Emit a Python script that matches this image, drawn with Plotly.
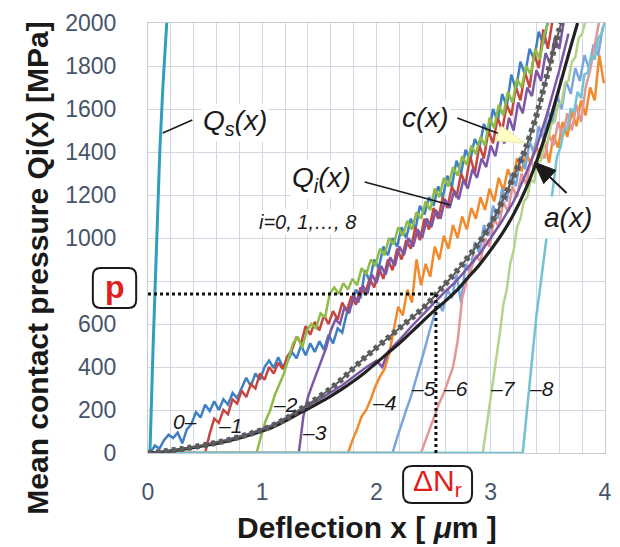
import plotly.graph_objects as go

# ---------------- data ----------------
x_tickvals = [0, 1, 2, 3, 4]
y_tickvals = [0, 200, 400, 600, 800, 1000, 1200, 1400, 1600, 1800, 2000]
y_ticktext = ["0", "200", "400", "600", "", "1000", "1200", "1400", "1600", "1800", "2000"]

qs_x = [0.0, 0.017, 0.045, 0.075, 0.103, 0.13, 0.164]
qs_y = [0, 0, 500, 1000, 1400, 1700, 2000]

q0_start, q0_step = 0.02, 0.04
q0 = [0, 35, 20, 60, 85, 70, 95, 45, 110, 135, 190, 165, 225, 195, 240, 200, 250, 225, 280, 255,
      300, 350, 310, 370, 340, 400, 430, 395, 445, 400, 425, 470, 440, 500, 455, 510, 470, 520, 480, 550,
      510, 580, 560, 650, 690, 760, 720, 850, 800, 900, 860, 960, 920, 1000, 960, 1050, 1000, 1090, 1040, 1150,
      1110, 1190, 1150, 1240, 1190, 1290, 1240, 1360, 1300, 1410, 1360, 1460, 1420, 1530, 1480, 1600, 1540, 1670,
      1610, 1760, 1690, 1820, 1760, 1880, 1830, 1960, 1900, 2010]

q1_start, q1_step = 0.50, 0.04
q1 = [0, 90, 160, 140, 200, 180, 250, 230, 290, 260, 320, 300, 370, 340, 400, 370, 420, 390, 450, 480,
      540, 510, 590, 550, 610, 570, 640, 600, 660, 620, 700, 660, 730, 690, 770, 740, 810, 770, 860, 810,
      900, 850, 950, 900, 990, 950, 1050, 990, 1090, 1040, 1140, 1090, 1190, 1140, 1240, 1190, 1300, 1250,
      1380, 1300, 1430, 1370, 1500, 1440, 1560, 1500, 1620, 1570, 1700, 1640, 1770, 1700, 1860, 1790, 1970,
      1880, 2010]

q2_start, q2_step = 0.95, 0.04
q2 = [0, 80, 150, 200, 270, 320, 370, 440, 510, 540, 490, 570, 600, 580, 650, 630, 740, 770, 740, 790,
      760, 810, 780, 860, 830, 900, 870, 950, 920, 1000, 970, 1050, 1010, 1080, 1040, 1120, 1090, 1170, 1130,
      1230, 1190, 1280, 1240, 1330, 1290, 1380, 1340, 1430, 1390, 1470, 1430, 1560, 1510, 1620, 1570, 1680,
      1630, 1740, 1700, 1800, 1760, 1880, 1830, 1950, 2010]

q3_start, q3_step = 1.32, 0.04
q3 = [0, 170, 260, 320, 380, 430, 490, 570, 620, 600, 680, 650, 730, 700, 780, 740, 830, 790, 870, 830,
      910, 870, 960, 920, 1000, 960, 1040, 1000, 1090, 1050, 1130, 1090, 1180, 1140, 1220, 1180, 1270, 1230,
      1320, 1280, 1370, 1330, 1430, 1380, 1490, 1440, 1560, 1500, 1630, 1580, 1700, 1660, 1780, 1730, 1860,
      1810, 1930, 1880, 2010]

q4_start, q4_step = 1.75, 0.04
q4 = [0, 60, 110, 170, 200, 250, 310, 355, 390, 460, 580, 680, 640, 760, 700, 900, 780, 880, 820, 960,
      900, 1010, 950, 1060, 1000, 1100, 1040, 1140, 1090, 1190, 1130, 1230, 1170, 1280, 1220, 1320, 1260,
      1370, 1310, 1400, 1340, 1440, 1370, 1460, 1350, 1480, 1420, 1540, 1470, 1590, 1520, 1640, 1570, 1700,
      1640, 1850, 1720]

q5_start, q5_step = 2.14, 0.04
q5 = [0, 70, 140, 200, 260, 330, 400, 480, 560, 630, 700, 660, 760, 720, 830, 700, 880, 840, 980, 930,
      1060, 1010, 1150, 1090, 1230, 1170, 1300, 1240, 1380, 1320, 1450, 1390, 1520, 1460, 1590, 1530, 1660,
      1600, 1730, 1670, 1790, 1730, 1850, 1790, 1900, 1850, 1980]

q6_start, q6_step = 2.39, 0.04
q6 = [0, 60, 120, 180, 233, 280, 340, 400, 520, 720, 800, 860, 920, 890, 1000, 960, 1090, 1050, 1170,
      1120, 1240, 1190, 1300, 1250, 1360, 1310, 1420, 1370, 1480, 1430, 1540, 1470, 1580, 1500, 1620, 1540,
      1700, 1780, 1900, 2010]

q7_start, q7_step = 2.93, 0.03
q7 = [0, 110, 220, 330, 450, 560, 690, 760, 880, 940, 1050, 1090, 1170, 1190, 1270, 1260, 1350, 1360,
      1440, 1450, 1530, 1540, 1620, 1630, 1720, 1730, 1820, 1840, 1930, 1950, 2010]

q8_start, q8_step = 3.28, 0.03
q8 = [0, 160, 330, 480, 640, 760, 880, 1000, 1140, 1250, 1380, 1420, 1500, 1510, 1600, 1590, 1680, 1650,
      1760, 1770, 1850, 1830, 1930, 1950, 2010]

b_x = [0.5, 0.7, 0.9, 1.1, 1.3, 1.5, 1.7, 1.9, 2.0, 2.05, 2.1, 2.2, 2.3, 2.4, 2.5, 2.6, 2.7, 2.8, 2.9,
       3.0, 3.1, 3.2, 3.3, 3.4, 3.5, 3.6, 3.68]
b_y = [38, 62, 92, 132, 190, 250, 315, 395, 430, 400, 470, 525, 585, 640, 700, 750, 800, 865, 925,
       1000, 1080, 1170, 1290, 1420, 1590, 1780, 1950]

a_x = [0.0, 0.1, 0.2, 0.3, 0.4, 0.5, 0.6, 0.7, 0.8, 0.9, 1.0, 1.1, 1.2, 1.3, 1.4, 1.5, 1.6, 1.7, 1.8,
       1.9, 2.0, 2.1, 2.2, 2.3, 2.4, 2.5, 2.6, 2.7, 2.8, 2.9, 3.0, 3.1, 3.2, 3.3, 3.4, 3.5, 3.6, 3.7, 3.76]
a_y = [0, 4, 10, 17, 26, 35, 45, 56, 70, 85, 102, 122, 148, 178, 205, 234, 265, 298, 335,
       375, 420, 465, 510, 560, 610, 660, 705, 755, 815, 875, 945, 1020, 1110, 1220, 1355, 1515, 1700, 1890, 2000]

c_x = [0.0, 0.1, 0.2, 0.3, 0.4, 0.5, 0.6, 0.7, 0.8, 0.9, 1.0, 1.1, 1.2, 1.3, 1.4, 1.5, 1.6, 1.7, 1.8,
       1.9, 2.0, 2.1, 2.2, 2.3, 2.4, 2.5, 2.6, 2.7, 2.8, 2.9, 3.0, 3.1, 3.2, 3.3, 3.4, 3.45, 3.5, 3.55, 3.6, 3.62]
c_y = [0, 5, 12, 19, 28, 37, 48, 60, 75, 90, 108, 130, 158, 192, 225, 262, 300, 345, 395,
       445, 490, 535, 580, 625, 670, 725, 785, 845, 910, 980, 1065, 1170, 1285, 1410, 1570, 1670, 1770, 1870, 1970, 2000]

p_value = 740
dNr_value = 2.52

q_series = [
    (q0_start, q0_step, q0, "#3f7fc4"),
    (q1_start, q1_step, q1, "#c4463f"),
    (q2_start, q2_step, q2, "#8fbc45"),
    (q3_start, q3_step, q3, "#7b57a6"),
    (q4_start, q4_step, q4, "#f08a2c"),
    (q5_start, q5_step, q5, "#7aa6dc"),
    (q6_start, q6_step, q6, "#e39696"),
    (q7_start, q7_step, q7, "#b5d38a"),
    (q8_start, q8_step, q8, "#72c2d4"),
]

# ---------------- figure ----------------
FONT = "Liberation Sans, Arial, sans-serif"
L, R, T, B = 148, 8, 23, 94
PW, PH = 620 - L - R, 547 - T - B


def P(px, py):
    return (px - L) / PW, (T + PH - py) / PH


fig = go.Figure()

for start, step, vals, col in q_series:
    xs = [0.0] + [round(start + step * i, 4) for i in range(len(vals))]
    ys = [0] + vals
    fig.add_trace(go.Scatter(x=xs, y=ys, mode="lines", line=dict(color=col, width=2.5),
                             hoverinfo="skip", showlegend=False))

fig.add_trace(go.Scatter(x=b_x, y=b_y, mode="lines", line=dict(color="#7b57a6", width=2.5),
                         showlegend=False))
fig.add_trace(go.Scatter(x=qs_x, y=qs_y, mode="lines", line=dict(color="#2f9fbd", width=3),
                         showlegend=False))
fig.add_trace(go.Scatter(x=a_x, y=a_y, mode="lines", line=dict(color="#222222", width=3.2),
                         line_shape="spline", showlegend=False))
# c(x): thin gray core with beaded overlay
fig.add_trace(go.Scatter(x=c_x, y=c_y, mode="lines", line=dict(color="#5c5c5c", width=2),
                         line_shape="spline", showlegend=False))
fig.add_trace(go.Scatter(x=c_x, y=c_y, mode="lines",
                         line=dict(color="#5c5c5c", width=6, dash="4px,4px"),
                         line_shape="spline", showlegend=False))
# dotted guides
fig.add_trace(go.Scatter(x=[0, dNr_value, dNr_value], y=[p_value, p_value, 0], mode="lines",
                         line=dict(color="#111111", width=3, dash="3px,3px"), showlegend=False))

shapes = []
annotations = []


def line_px(x0, y0, x1, y1, color="#1a1a1a", w=1.6):
    a0, b0 = P(x0, y0)
    a1, b1 = P(x1, y1)
    shapes.append(dict(type="line", xref="paper", yref="paper", x0=a0, y0=b0, x1=a1, y1=b1,
                       line=dict(color=color, width=w)))


def tri_px(pts, fill, outline=None):
    s = ""
    for i, (px, py) in enumerate(pts):
        a, b = P(px, py)
        s += ("M" if i == 0 else " L") + f"{a:.5f},{b:.5f}"
    s += " Z"
    shapes.append(dict(type="path", xref="paper", yref="paper", path=s, fillcolor=fill,
                       line=dict(color=outline or fill, width=1)))


def rrect_px(x0, y0, x1, y1, r):
    def c(px, py):
        a, b = P(px, py)
        return f"{a:.5f},{b:.5f}"
    path = (f"M{c(x0 + r, y0)} L{c(x1 - r, y0)} Q{c(x1, y0)} {c(x1, y0 + r)} "
            f"L{c(x1, y1 - r)} Q{c(x1, y1)} {c(x1 - r, y1)} L{c(x0 + r, y1)} "
            f"Q{c(x0, y1)} {c(x0, y1 - r)} L{c(x0, y0 + r)} Q{c(x0, y0)} {c(x0 + r, y0)} Z")
    shapes.append(dict(type="path", xref="paper", yref="paper", path=path, fillcolor="white",
                       line=dict(color="#1a1a1a", width=2)))


def txt(px, py, text, size, color="#1a1a1a", italic=True, bold=False, bg="rgba(0,0,0,0)", angle=0, pad=1):
    a, b = P(px, py)
    annotations.append(dict(x=a, y=b, xref="paper", yref="paper", text=text, showarrow=False,
                            xanchor="center", yanchor="middle", textangle=angle, bgcolor=bg, borderpad=pad,
                            font=dict(family=FONT, size=size, color=color,
                                      style="italic" if italic else "normal",
                                      weight="bold" if bold else "normal")))


# leader lines / arrows
line_px(163, 133, 193, 120)
line_px(368, 182, 455, 205)
line_px(462, 118, 504, 133.5)
tri_px([(530, 143), (500.9, 140.8), (506.5, 125.8)], "#ffffc4", "#e8e8a0")
line_px(573, 193, 556, 177, w=2)
tri_px([(540, 162), (562.2, 170.4), (549.8, 183.6)], "#1a1a1a")

# rounded boxes
rrect_px(92, 268, 136, 308, 8)
rrect_px(407, 466, 477, 503, 9)

# labels
txt(236, 122, "Q<sub>s</sub>(x)", 28, bg="white")
txt(324, 180, "Q<sub>i</sub>(x)", 28, bg="white")
txt(310, 222, "i=0, 1,…, 8", 20, bg="white")
txt(430, 118, "c(x)", 28, bg="white")
txt(574, 217, "a(x)", 28, bg="white", pad=5)

txt(186, 421, "0–", 21)
txt(231, 425, "–1", 21)
txt(288, 404, "–2", 21)
txt(317, 432, "–3", 21)
txt(388, 402, "–4", 21)
txt(428, 388, "–5", 21)
txt(460, 388, "–6", 21)
txt(508, 388, "–7", 21)
txt(548, 388, "–8", 21)

txt(114, 287, "p", 32, color="#e0201c", italic=False, bold=True)
txt(442, 483, "ΔN<sub>r</sub>", 30, color="#e0201c", italic=False)

# axis titles
txt(35, 268, "Mean contact pressure Qi(x) [MPa]", 30, italic=False, bold=True, angle=-90)
txt(370, 527, "Deflection x [ <i>μ</i>m ]", 30, italic=False, bold=True)

grid = "#d2d6e0"
fig.update_layout(
    width=620, height=547,
    margin=dict(l=L, r=R, t=T, b=B),
    paper_bgcolor="white", plot_bgcolor="white",
    shapes=shapes, annotations=annotations,
    showlegend=False,
    xaxis=dict(range=[0, 4], tickvals=x_tickvals, showgrid=True, gridcolor=grid, gridwidth=1.2,
               minor=dict(dtick=0.2, showgrid=True, gridcolor=grid, gridwidth=1.2),
               zeroline=False, showline=True, mirror=True, linecolor="#c6cbd6", linewidth=1.2,
               ticks="outside", ticklen=18, tickcolor="rgba(0,0,0,0)",
               tickfont=dict(family=FONT, size=23, color="#46546a")),
    yaxis=dict(range=[0, 2000], tickvals=y_tickvals, ticktext=y_ticktext, showgrid=True,
               gridcolor=grid, gridwidth=1.2,
               zeroline=False, showline=True, mirror=True, linecolor="#c6cbd6", linewidth=1.2,
               ticks="outside", ticklen=26, tickcolor="rgba(0,0,0,0)",
               tickfont=dict(family=FONT, size=23, color="#46546a")),
)

fig.write_html("out.html")
